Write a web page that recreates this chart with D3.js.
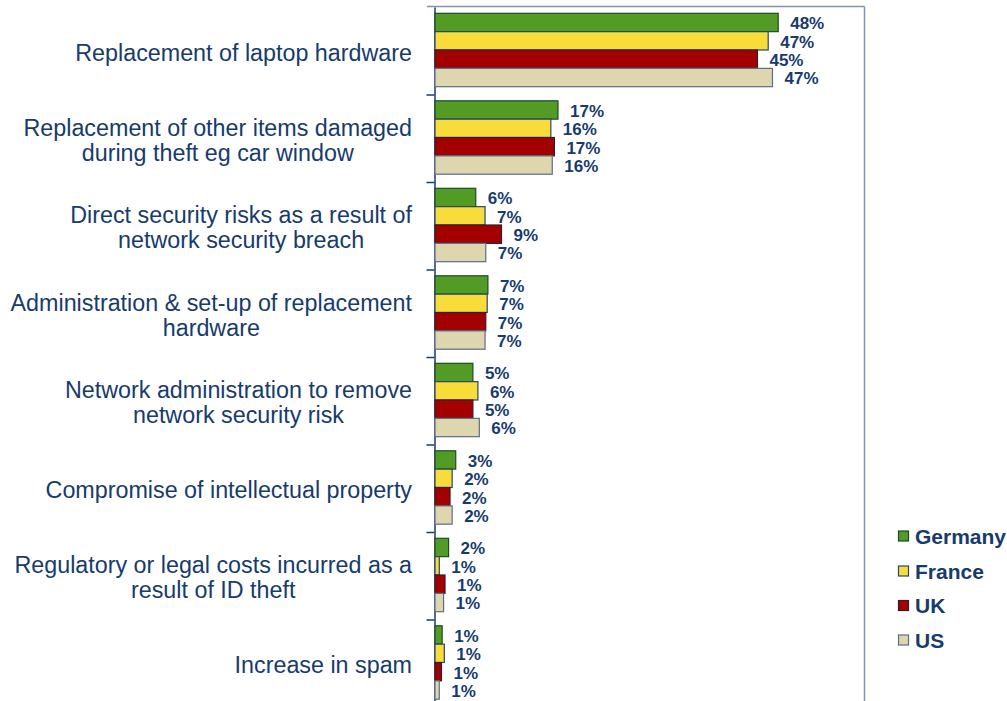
<!DOCTYPE html>
<html>
<head>
<meta charset="utf-8">
<script src="https://cdn.jsdelivr.net/npm/d3@7"></script>
<style>
  html, body { margin: 0; padding: 0; background: #fff; }
  svg { display: block; font-family: Arial, "Liberation Sans", sans-serif; }
</style>
</head>
<body>
<svg id="chart" width="1007" height="701"></svg>
<script>
// Cost categories (one label line per array entry)
const categories = [
  ["Replacement of laptop hardware"],
  ["Replacement of other items damaged", "during theft eg car window"],
  ["Direct security risks as a result of", "network security breach"],
  ["Administration & set-up of replacement", "hardware"],
  ["Network administration to remove", "network security risk"],
  ["Compromise of intellectual property"],
  ["Regulatory or legal costs incurred as a", "result of ID theft"],
  ["Increase in spam"]
];

const seriesNames = ["Germany", "France", "UK", "US"];

// Share of respondents (%) per category
const germany = [48.0, 17.2, 5.7, 7.4, 5.3, 2.9, 1.9, 1.0];
const france  = [46.6, 16.2, 7.0, 7.3, 6.0, 2.4, 0.6, 1.3];
const uk      = [45.1, 16.7, 9.3, 7.1, 5.3, 2.1, 1.4, 0.9];
const us      = [47.2, 16.4, 7.1, 7.0, 6.2, 2.4, 1.2, 0.6];

const seriesValues = [germany, france, uk, us];
const seriesColors = ["#529b24", "#f8dd3a", "#a30000", "#ddd6ae"];
const seriesStroke = ["#1d4a2a", "#2a4569", "#3a1a2a", "#5b6f8a"];

const navy = "#173b6c";
const frameColor = "#7f95b1";

const svg = d3.select("#chart");

const axisX = 434.5;
const plotTop = 7;
const bandH = 87.5;

const y = d3.scaleBand()
  .domain(d3.range(categories.length))
  .range([plotTop, plotTop + bandH * categories.length])
  .padding(0);

const yInner = d3.scaleBand()
  .domain(seriesNames)
  .range([6.3, 6.3 + 73.4])
  .padding(0);

const x = d3.scaleLinear()
  .domain([0, 50])
  .range([axisX + 0.5, axisX + 0.5 + 7.15 * 50]);

// Frame: top and right borders
svg.append("line")
  .attr("x1", 427).attr("x2", 864.5)
  .attr("y1", plotTop - 0.5).attr("y2", plotTop - 0.5)
  .attr("stroke", frameColor).attr("stroke-width", 1.5);
svg.append("line")
  .attr("x1", 864.5).attr("x2", 864.5)
  .attr("y1", plotTop - 0.5).attr("y2", 701)
  .attr("stroke", frameColor).attr("stroke-width", 1.5);

// Category axis with ticks at band boundaries
const boundary = d3.scaleLinear()
  .domain([0, categories.length])
  .range([plotTop, plotTop + bandH * categories.length]);

const axisG = svg.append("g")
  .attr("transform", `translate(${axisX},0)`)
  .call(d3.axisLeft(boundary)
    .tickValues(d3.range(1, categories.length))
    .tickSize(8)
    .tickSizeOuter(0)
    .tickFormat(""));
axisG.selectAll("path, line").attr("stroke", navy).attr("stroke-width", 1.5);

// Bars
const data = [];
categories.forEach((c, i) => {
  seriesNames.forEach((s, j) => {
    data.push({ cat: i, series: s, idx: j, value: seriesValues[j][i] });
  });
});

const fmt = d3.format(".0f");

const bars = svg.append("g");
bars.selectAll("rect")
  .data(data)
  .join("rect")
  .attr("x", x(0))
  .attr("y", d => y(d.cat) + yInner(d.series))
  .attr("width", d => x(d.value) - x(0))
  .attr("height", yInner.bandwidth())
  .attr("fill", d => seriesColors[d.idx])
  .attr("stroke", d => seriesStroke[d.idx])
  .attr("stroke-width", 1.2);

// Value labels
svg.append("g").selectAll("text")
  .data(data)
  .join("text")
  .attr("x", d => x(d.value) + 12)
  .attr("y", d => y(d.cat) + yInner(d.series) + yInner.bandwidth() / 2 + 1)
  .attr("dy", "0.35em")
  .attr("fill", navy)
  .attr("font-weight", "bold")
  .attr("font-size", 17)
  .text(d => fmt(d.value) + "%");

// Category labels: lines centred within a block right-aligned to the axis
const labelRight = 412;
const lineH = 25;
const fontSize = 23.3;
categories.forEach((lines, i) => {
  const g = svg.append("g");
  const cy = y(i) + y.bandwidth() / 2;
  const texts = lines.map((ln, k) =>
    g.append("text")
      .attr("font-size", fontSize)
      .attr("fill", navy)
      .attr("text-anchor", "middle")
      .attr("y", cy + (k - (lines.length - 1) / 2) * lineH + 2)
      .attr("dy", "0.35em")
      .text(ln));
  const maxW = d3.max(texts, t => t.node().getComputedTextLength());
  texts.forEach(t => t.attr("x", labelRight - maxW / 2));
});

// Legend
const legend = svg.append("g");
const legendY = [536.5, 571.5, 606, 640.5];
seriesNames.forEach((s, j) => {
  legend.append("rect")
    .attr("x", 898.5).attr("y", legendY[j] - 5.5)
    .attr("width", 10).attr("height", 10)
    .attr("fill", seriesColors[j])
    .attr("stroke", seriesStroke[j])
    .attr("stroke-width", 1.2);
  legend.append("text")
    .attr("x", 915).attr("y", legendY[j])
    .attr("dy", "0.35em")
    .attr("font-size", 21)
    .attr("font-weight", "bold")
    .attr("fill", navy)
    .text(s);
});
</script>
</body>
</html>
